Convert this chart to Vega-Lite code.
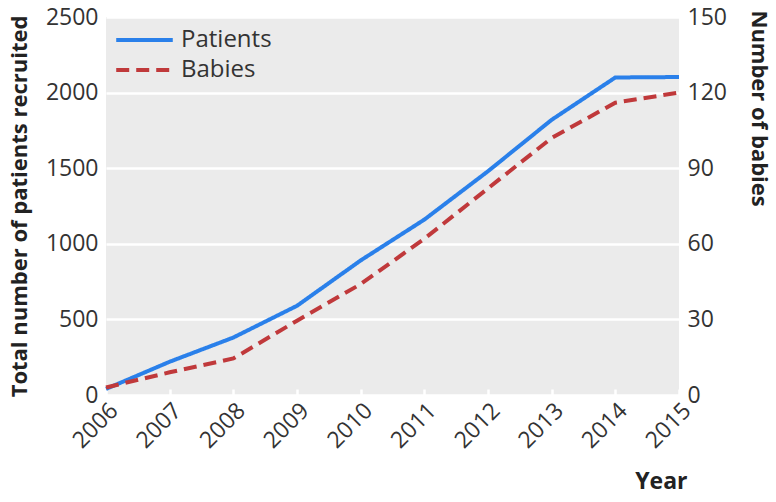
{
  "$schema": "https://vega.github.io/schema/vega-lite/v6.json",
  "width": 573,
  "height": 378,
  "autosize": {"type": "none"},
  "padding": {"left": 106, "top": 17, "right": 97, "bottom": 107},
  "background": "white",
  "config": {
    "view": {"fill": "#EBEBEB", "stroke": null},
    "font": "Open Sans",
    "axis": {
      "labelFontSize": 23,
      "labelColor": "#333333",
      "titleFontSize": 22,
      "titleFontWeight": "bold",
      "titleColor": "#222222",
      "domain": false,
      "ticks": false,
      "gridColor": "white",
      "gridWidth": 2.5,
      "gridOpacity": 1
    },
    "legend": {"labelFontSize": 24, "labelColor": "#333333"}
  },
  "data": {
    "values": [
      {"year": 2006, "series": "Patients", "value": 40},
      {"year": 2007, "series": "Patients", "value": 220},
      {"year": 2008, "series": "Patients", "value": 380},
      {"year": 2009, "series": "Patients", "value": 590},
      {"year": 2010, "series": "Patients", "value": 890},
      {"year": 2011, "series": "Patients", "value": 1160},
      {"year": 2012, "series": "Patients", "value": 1480},
      {"year": 2013, "series": "Patients", "value": 1820},
      {"year": 2014, "series": "Patients", "value": 2100},
      {"year": 2015, "series": "Patients", "value": 2103},
      {"year": 2006, "series": "Babies", "value": 3},
      {"year": 2007, "series": "Babies", "value": 9},
      {"year": 2008, "series": "Babies", "value": 14.5},
      {"year": 2009, "series": "Babies", "value": 29.5},
      {"year": 2010, "series": "Babies", "value": 44},
      {"year": 2011, "series": "Babies", "value": 62},
      {"year": 2012, "series": "Babies", "value": 82},
      {"year": 2013, "series": "Babies", "value": 102},
      {"year": 2014, "series": "Babies", "value": 116},
      {"year": 2015, "series": "Babies", "value": 120}
    ]
  },
  "encoding": {
    "x": {
      "field": "year",
      "type": "quantitative",
      "scale": {"domain": [2006, 2015], "nice": false, "zero": false},
      "axis": {
        "values": [2006, 2007, 2008, 2009, 2010, 2011, 2012, 2013, 2014, 2015],
        "format": "d",
        "grid": false,
        "ticks": true,
        "tickColor": "white",
        "tickWidth": 2.5,
        "tickSize": -6,
        "labelPadding": 10,
        "labelAngle": -45,
        "labelAlign": "right",
        "labelBaseline": "top",
        "title": "Year",
        "titleAnchor": "end",
        "titleAlign": "right",
        "titleX": 581,
        "titleY": 93,
        "titleBaseline": "alphabetic",
        "titleFontSize": 23
      }
    },
    "color": {
      "field": "series",
      "type": "nominal",
      "scale": {"domain": ["Patients", "Babies"], "range": ["#2A80EA", "#C0393B"]},
      "legend": {
        "title": null,
        "orient": "none",
        "legendX": 8,
        "legendY": 8,
        "symbolType": "stroke",
        "symbolSize": 3200,
        "symbolStrokeWidth": 4,
        "labelOffset": 6,
        "clipHeight": 30,
        "rowPadding": 0
      }
    },
    "strokeDash": {
      "field": "series",
      "type": "nominal",
      "scale": {"domain": ["Patients", "Babies"], "range": [[1, 0], [13, 7]]},
      "legend": {
        "title": null,
        "orient": "none",
        "legendX": 8,
        "legendY": 8,
        "symbolType": "stroke",
        "symbolSize": 3200,
        "symbolStrokeWidth": 4,
        "labelOffset": 6,
        "clipHeight": 30,
        "rowPadding": 0
      }
    }
  },
  "layer": [
    {
      "transform": [{"filter": "datum.series === 'Patients'"}],
      "mark": {"type": "line", "strokeWidth": 4},
      "encoding": {
        "y": {
          "field": "value",
          "type": "quantitative",
          "scale": {"domain": [0, 2500], "nice": false},
          "axis": {
            "values": [0, 500, 1000, 1500, 2000, 2500],
            "format": "d",
            "grid": true,
            "labelPadding": 8,
            "title": "Total number of patients recruited",
            "titlePadding": 14
          }
        }
      }
    },
    {
      "transform": [{"filter": "datum.series === 'Babies'"}],
      "mark": {"type": "line", "strokeWidth": 4},
      "encoding": {
        "y": {
          "field": "value",
          "type": "quantitative",
          "scale": {"domain": [0, 150], "nice": false},
          "axis": {
            "orient": "right",
            "values": [0, 30, 60, 90, 120, 150],
            "format": "d",
            "grid": false,
            "labelPadding": 8,
            "title": "Number of babies",
            "titlePadding": 20,
            "titleAngle": 90,
            "titleAlign": "left",
            "titleY": -7
          }
        }
      }
    }
  ],
  "resolve": {"scale": {"y": "independent"}}
}
